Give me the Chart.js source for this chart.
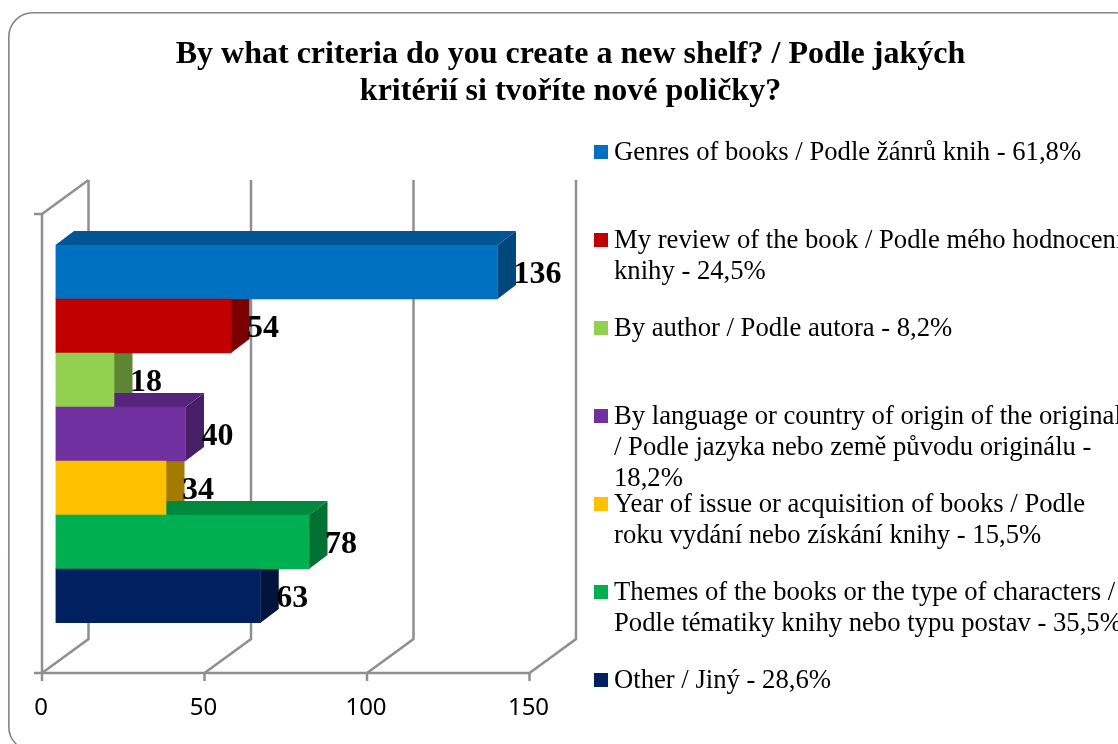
<!DOCTYPE html>
<html>
<head>
<meta charset="utf-8">
<title>New shelf criteria</title>
<script src="https://cdn.jsdelivr.net/npm/chart.js@4/dist/chart.umd.min.js"></script>
<style>
html, body { margin: 0; padding: 0; background: #fff; overflow: hidden; }
canvas { display: block; }
</style>
</head>
<body>
<canvas id="canvas" width="1118" height="744"></canvas>
<script>
const titleLines = [
    'By what criteria do you create a new shelf? / Podle jakých',
    'kritérií si tvoříte nové poličky?'
];
const categories = [
    ['Genres of books / Podle žánrů knih - 61,8%'],
    ['My review of the book / Podle mého hodnocení', 'knihy - 24,5%'],
    ['By author / Podle autora - 8,2%'],
    ['By language or country of origin of the original', '/ Podle jazyka nebo země původu originálu -', '18,2%'],
    ['Year of issue or acquisition of books / Podle', 'roku vydání nebo získání knihy - 15,5%'],
    ['Themes of the books or the type of characters /', 'Podle tématiky knihy nebo typu postav - 35,5%'],
    ['Other / Jiný - 28,6%']
];
const values = [136, 54, 18, 40, 34, 78, 63];
const tickValues = [0, 50, 100, 150];
const colors = ['#0070C0', '#C00000', '#92D050', '#7030A0', '#FFC000', '#00B050', '#002060'];

const gridColor = '#8f8f8f';
const serif = '"Liberation Serif", "Times New Roman", serif';
const barDepth = { x: 18.5, y: -14 };
const wallDepth = { x: 46.5, y: -34 };
const frontShift = -13.5; // the front plane of the axis sits left of the bars

function shade(hex, f) {
    const n = parseInt(hex.slice(1), 16);
    const r = Math.round((n >> 16) * f);
    const g = Math.round(((n >> 8) & 255) * f);
    const b = Math.round((n & 255) * f);
    return `rgb(${r}, ${g}, ${b})`;
}

function poly(ctx, pts, fill) {
    ctx.beginPath();
    ctx.moveTo(pts[0][0], pts[0][1]);
    pts.slice(1).forEach(p => ctx.lineTo(p[0], p[1]));
    ctx.closePath();
    ctx.fillStyle = fill;
    ctx.fill();
}

function line(ctx, pts) {
    ctx.beginPath();
    ctx.moveTo(pts[0][0], pts[0][1]);
    pts.slice(1).forEach(p => ctx.lineTo(p[0], p[1]));
    ctx.stroke();
}

// rounded frame, title, legend and the back walls
const backdrop = {
    id: 'backdrop',
    beforeDatasetsDraw(chart) {
        const ctx = chart.ctx;
        const x = chart.scales.x;
        ctx.save();

        ctx.strokeStyle = '#868686';
        ctx.lineWidth = 1.6;
        ctx.beginPath();
        ctx.roundRect(8.8, 12.8, 1130, 738, 24);
        ctx.stroke();

        ctx.fillStyle = '#000';
        ctx.textAlign = 'center';
        ctx.textBaseline = 'alphabetic';
        ctx.font = 'bold 32px ' + serif;
        titleLines.forEach((t, i) => ctx.fillText(t, 570.5, 63 + i * 37));

        ctx.textAlign = 'left';
        ctx.font = '26.67px ' + serif;
        categories.forEach((lines, i) => {
            const top = 145 + i * 88;
            ctx.fillStyle = colors[i];
            ctx.fillRect(594, top, 14, 14);
            ctx.fillStyle = '#000';
            lines.forEach((t, j) => ctx.fillText(t, 614, top + 15 + j * 31));
        });

        // axis planes
        const floorY = 673;
        const topY = 214;
        const x0 = x.getPixelForValue(0) + frontShift;
        const xEnd = x.getPixelForValue(tickValues[tickValues.length - 1]) + frontShift;
        ctx.strokeStyle = gridColor;
        ctx.lineWidth = 2.5;
        tickValues.forEach(v => {
            const px = x.getPixelForValue(v) + frontShift;
            line(ctx, [
                [px, floorY],
                [px + wallDepth.x, floorY + wallDepth.y],
                [px + wallDepth.x, topY + wallDepth.y]
            ]);
            line(ctx, [[px, floorY], [px, floorY + 8]]);
        });
        line(ctx, [[x0 - 8, floorY], [xEnd, floorY]]);
        line(ctx, [[x0, topY], [x0, floorY]]);
        line(ctx, [[x0 - 8, topY], [x0, topY], [x0 + wallDepth.x, topY + wallDepth.y]]);

        // tops and sides of the bars, the fronts come from the library afterwards
        chart.getDatasetMeta(0).data.forEach((bar, i) => {
            const p = bar.getProps(['x', 'y', 'base', 'height'], true);
            const yTop = p.y - p.height / 2;
            const yBot = p.y + p.height / 2;
            const dx = barDepth.x;
            const dy = barDepth.y;
            poly(ctx, [[p.base, yTop], [p.x, yTop], [p.x + dx, yTop + dy], [p.base + dx, yTop + dy]], shade(colors[i], 0.77));
            poly(ctx, [[p.x, yTop], [p.x + dx, yTop + dy], [p.x + dx, yBot + dy], [p.x, yBot]], shade(colors[i], 0.64));
        });
        ctx.restore();
    },
    afterDatasetsDraw(chart) {
        const ctx = chart.ctx;
        ctx.save();
        ctx.fillStyle = '#000';
        ctx.font = 'bold 32px ' + serif;
        ctx.textAlign = 'left';
        ctx.textBaseline = 'alphabetic';
        chart.getDatasetMeta(0).data.forEach((bar, i) => {
            const p = bar.getProps(['x', 'y'], true);
            ctx.fillText(String(values[i]), p.x + 16, p.y + 11);
        });
        ctx.restore();
    }
};

new Chart(document.getElementById('canvas').getContext('2d'), {
    type: 'bar',
    data: {
        labels: categories.map(c => c.join(' ')),
        datasets: [{
            data: values,
            backgroundColor: colors,
            borderWidth: 0,
            barPercentage: 1,
            categoryPercentage: 1
        }]
    },
    options: {
        indexAxis: 'y',
        responsive: false,
        animation: false,
        layout: { padding: { left: 55.5, right: 575, top: 245, bottom: 0 } },
        plugins: {
            legend: { display: false },
            title: { display: false },
            tooltip: { enabled: false }
        },
        scales: {
            y: { display: false },
            x: {
                min: 0,
                max: 150,
                afterBuildTicks: scale => { scale.ticks = tickValues.map(v => ({ value: v })); },
                afterFit: scale => {
                    scale.height = 121;
                    scale.paddingLeft = 0;
                    scale.paddingRight = 0;
                },
                grid: { display: false, drawTicks: false },
                border: { display: false },
                ticks: {
                    color: '#000',
                    padding: 71,
                    maxRotation: 0,
                    labelOffset: frontShift - 1,
                    font: { family: '"Noto Sans"', size: 24 }
                }
            }
        }
    },
    plugins: [backdrop]
});
</script>
</body>
</html>
